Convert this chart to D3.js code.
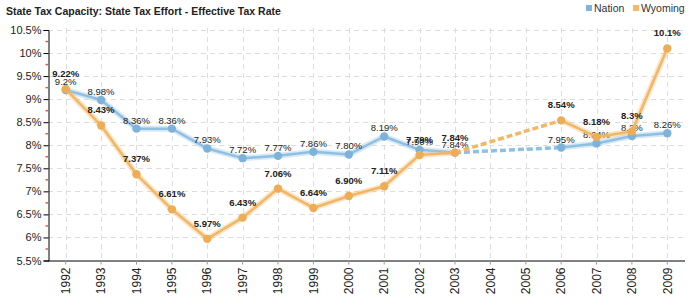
<!DOCTYPE html>
<html>
<head>
<meta charset="utf-8">
<script src="https://cdn.jsdelivr.net/npm/d3@7"></script>
<style>
  body { margin: 0; background: #fff; }
  svg { font-family: "Liberation Sans", Arial, sans-serif; }
</style>
</head>
<body>
<div id="chart"></div>
<script>
const years = ['1992','1993','1994','1995','1996','1997','1998','1999','2000',
  '2001','2002','2003','2004','2005','2006','2007','2008','2009'];
// values kept as strings so the labels keep their original format
const nation = ['9.2','8.98','8.36','8.36','7.93','7.72','7.77','7.86','7.80',
  '8.19','7.90','7.84',null,null,'7.95','8.04','8.2','8.26'];
const wyoming = ['9.22','8.43','7.37','6.61','5.97','6.43','7.06','6.64','6.90',
  '7.11','7.79','7.84',null,null,'8.54','8.18','8.3','10.1'];
const yTicks = [5.5, 6, 6.5, 7, 7.5, 8, 8.5, 9, 9.5, 10, 10.5];
const yMinor = [5.75, 6.25, 6.75, 7.25, 7.75, 8.25, 8.75, 9.25, 9.75, 10.25];

const width = 700, height = 300;
const plot = { left: 48, right: 685, top: 30, bottom: 260.5 };

const svg = d3.select('#chart').append('svg')
  .attr('width', width)
  .attr('height', height);

const x = d3.scaleBand().domain(years).range([plot.left, plot.right]).padding(0);
const cx = d => x(d) + x.bandwidth() / 2;
const y = d3.scaleLinear().domain([5.5, 10.5]).range([plot.bottom, plot.top]);

// Title
svg.append('text')
  .attr('x', 6).attr('y', 15)
  .attr('font-size', '10.5px').attr('font-weight', 'bold').attr('fill', '#222')
  .text('State Tax Capacity: State Tax Effort - Effective Tax Rate');

// Legend
const legend = [{ name: 'Nation', color: '#7fb5dc', x: 586 }, { name: 'Wyoming', color: '#f5b865', x: 633 }];
legend.forEach(l => {
  svg.append('rect').attr('x', l.x).attr('y', 5).attr('width', 6).attr('height', 6).attr('fill', l.color);
  svg.append('text').attr('x', l.x + 8).attr('y', 11.5)
    .attr('font-size', '10.5px').attr('fill', '#333').text(l.name);
});

// Grid
svg.append('g').selectAll('line')
  .data(yTicks.slice(1))
  .join('line')
  .attr('x1', plot.left).attr('x2', plot.right)
  .attr('y1', d => Math.round(y(d)) + 0.5).attr('y2', d => Math.round(y(d)) + 0.5)
  .attr('stroke', '#ddd').attr('stroke-dasharray', '5,4');

svg.append('g').selectAll('line')
  .data(years)
  .join('line')
  .attr('x1', d => Math.round(cx(d)) + 0.5).attr('x2', d => Math.round(cx(d)) + 0.5)
  .attr('y1', plot.top - 2).attr('y2', plot.bottom)
  .attr('stroke', '#ddd').attr('stroke-dasharray', '5,4');

// Y axis
const yAxis = svg.append('g').attr('transform', `translate(${plot.left + 0.5},0)`)
  .call(d3.axisLeft(y).tickValues(yTicks).tickSize(5).tickPadding(2).tickFormat(d => d + '%'));
yAxis.select('.domain').attr('stroke', '#000');
yAxis.selectAll('.tick line').attr('stroke', '#000');
yAxis.selectAll('text').attr('font-size', '11px').attr('fill', '#222')
  .attr('font-family', '"Liberation Sans", Arial, sans-serif');

svg.append('g').selectAll('line')
  .data(yMinor)
  .join('line')
  .attr('x1', plot.left - 2.5).attr('x2', plot.left)
  .attr('y1', d => y(d)).attr('y2', d => y(d))
  .attr('stroke', '#e8554e').attr('stroke-width', 1.5);

// X axis
const xAxis = svg.append('g').attr('transform', `translate(0,${plot.bottom})`)
  .call(d3.axisBottom(x).tickSize(4).tickFormat(''));
xAxis.select('.domain').attr('stroke', '#000').attr('d', `M${plot.left},0.5H${plot.right}`);
xAxis.selectAll('.tick line').attr('stroke', '#999');

svg.append('g').selectAll('text')
  .data(years)
  .join('text')
  .attr('transform', d => `translate(${cx(d)},${plot.bottom + 7}) rotate(-90)`)
  .attr('text-anchor', 'end')
  .attr('dy', '0.35em')
  .attr('font-size', '12px').attr('fill', '#222')
  .text(d => d);

// Series
function drawSeries(values, color, pointColor, labelOffset, bold) {
  const full = years.map((yr, i) => ({ yr, v: values[i] }));
  const pts = full.filter(d => d.v !== null);
  const line = d3.line()
    .defined(d => d.v !== null)
    .x(d => cx(d.yr)).y(d => y(+d.v));

  // dashed connectors across gaps
  const gaps = [];
  for (let i = 1; i < pts.length; i++) {
    if (years.indexOf(pts[i].yr) - years.indexOf(pts[i - 1].yr) > 1) gaps.push([pts[i - 1], pts[i]]);
  }
  const g = svg.append('g');
  gaps.forEach(gp => {
    g.append('path').datum(gp).attr('d', line)
      .attr('fill', 'none').attr('stroke', color).attr('stroke-width', 3.5)
      .attr('stroke-dasharray', '6,3');
  });

  g.append('path').datum(full).attr('d', line)
    .attr('fill', 'none').attr('stroke', color).attr('stroke-opacity', 0.35)
    .attr('stroke-width', 6).attr('stroke-linejoin', 'round');
  g.append('path').datum(full).attr('d', line)
    .attr('fill', 'none').attr('stroke', color)
    .attr('stroke-width', 2.5).attr('stroke-linejoin', 'round');

  g.selectAll('circle').data(pts).join('circle')
    .attr('cx', d => cx(d.yr)).attr('cy', d => y(+d.v)).attr('r', 4.2)
    .attr('fill', pointColor);

  g.selectAll('text').data(pts).join('text')
    .attr('x', d => cx(d.yr)).attr('y', d => y(+d.v) + labelOffset)
    .attr('text-anchor', 'middle')
    .attr('font-size', '9.5px')
    .attr('font-weight', bold ? 'bold' : 'normal')
    .attr('fill', '#222')
    .text(d => d.v + '%');
}

drawSeries(nation, '#8fc0e2', '#7db2d9', -5, false);
drawSeries(wyoming, '#f2b665', '#eeac55', -12, true);
</script>
</body>
</html>
